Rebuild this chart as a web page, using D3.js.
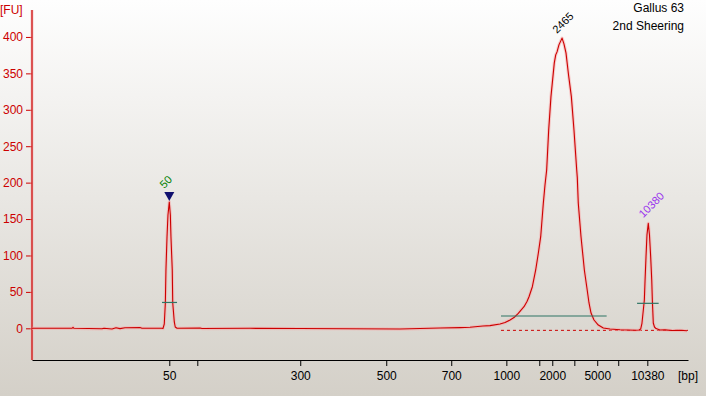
<!DOCTYPE html>
<html><head><meta charset="utf-8">
<script src="https://cdn.jsdelivr.net/npm/d3@7/dist/d3.min.js"></script>
<style>
html,body{margin:0;padding:0;background:#fff;}
svg{display:block;font-family:"Liberation Sans",Arial,sans-serif;}
</style></head>
<body>
<svg id="chart" width="706" height="396"></svg>
<script>
// ---- data ----
// migration time (s) of the trace points and fluorescence (FU)
const traceTime = [20.00,23.35,23.44,23.52,25.87,26.04,26.71,27.04,27.38,27.80,29.05,29.22,30.90,30.98,31.09,31.18,31.23,31.32,31.40,31.51,31.60,31.65,31.76,31.80,31.93,32.01,32.16,34.09,34.25,38.28,42.47,46.66,50.85,52.53,54.21,55.88,56.72,57.81,58.40,59.24,59.66,60.08,60.41,60.77,61.00,61.25,61.50,61.67,61.95,62.23,62.45,62.65,62.87,63.01,63.15,63.32,63.51,63.79,63.91,64.02,64.18,64.44,64.60,64.77,64.98,65.22,65.44,65.67,65.72,65.80,66.03,66.31,66.51,66.70,66.87,67.12,67.48,67.90,68.46,69.30,70.56,70.89,71.03,71.14,71.34,71.40,71.48,71.56,71.67,71.77,71.87,71.96,72.01,72.09,72.19,72.32,72.65,73.07,73.66,74.33,74.92];
const traceFU   = [0,0,1.4,0,-0.7,0,-1.0,0.7,-0.4,0.7,1.0,0,0,-0.3,5.9,34.8,80.1,125.8,155.6,173.5,155.6,125.8,80.1,34.8,8.7,1.8,0,0.4,-0.3,0,-0.3,-0.5,-1.0,-0.3,0.4,1.0,1.4,3.2,3.7,5.9,8.0,11.4,14.8,20.6,25.1,29.7,36.8,43.4,57.1,80.1,103.0,125.8,171.7,196.8,217.4,272.3,318.1,364.4,375.4,379.5,389.1,398.4,390.5,378.2,348.4,318.1,272.3,217.4,206.5,172.1,125.8,80.1,57.1,34.8,21.0,11.4,4.5,0.4,-1.0,-1.9,-2.7,-2.3,-1.0,6.9,38.9,66.3,98.4,128.2,144.2,128.2,98.4,66.3,38.9,7.3,1.8,-0.3,-2.3,-2.1,-3.0,-2.7,-3.4];

// ladder (bp) and its migration times
const ladderBp    = [50,100,300,500,700,1000,1500,2000,3000,5000,7000,10380];
const ladderTime  = [31.51,33.86,42.49,49.70,55.15,59.77,62.53,63.62,65.47,67.39,69.15,71.59];
const ladderLabel = ["50","","300","500","700","1000","","2000","","5000","","10380"];

const yTicks = [0,50,100,150,200,250,300,350,400];

// peaks labels
const peakLabel = ["50","2465","10380"];
const peakTime  = [31.51,64.44,71.67];
const peakFU    = [173.5,398.4,144.2];

// integration regions: [startTime, endTime, level FU]
const regionStart = [30.90,59.32,70.73];
const regionEnd   = [32.16,68.18,72.54];
const regionLevel = [35.5,16.9,34.3];

// baseline (dashed)
const baselineStart = 59.32, baselineEnd = 75.0, baselineFU = -2.8;

const titleLines = ["Gallus 63","2nd Sheering"];

// ---- drawing ----
const W = 706, H = 396;
const svg = d3.select("#chart");
const defs = svg.append("defs");
const grad = defs.append("linearGradient").attr("id","bg").attr("x1",0).attr("y1",0).attr("x2",0).attr("y2",1);
grad.append("stop").attr("offset","0%").attr("stop-color","#fefefe");
grad.append("stop").attr("offset","100%").attr("stop-color","#d4d0c8");
svg.append("rect").attr("width",W).attr("height",H).attr("fill","url(#bg)");

const x = d3.scaleLinear().domain([20,75]).range([32,688]);
const y = d3.scaleLinear().domain([-43.5,437]).range([360,10]);
const red = "#cc0000";

// y axis
const yAxis = svg.append("g").attr("transform","translate(32,0)")
  .call(d3.axisLeft(y).tickValues(yTicks).tickSize(6).tickPadding(3).tickSizeOuter(0));
yAxis.select(".domain").remove();
yAxis.selectAll(".tick line").attr("stroke",red);
yAxis.selectAll(".tick text").attr("fill",red).attr("font-size",12).attr("font-family","Liberation Sans, Arial, sans-serif");
svg.append("line").attr("x1",32).attr("x2",32).attr("y1",y.range()[1]).attr("y2",y.range()[0])
  .attr("stroke","#f4b0b0").attr("stroke-width",3).attr("opacity",0.6);
svg.append("line").attr("x1",32).attr("x2",32).attr("y1",y.range()[1]).attr("y2",y.range()[0])
  .attr("stroke",red).attr("stroke-width",1.2);
svg.append("text").attr("x",0).attr("y",14).attr("fill",red).attr("font-size",12).text("[FU]");

// x axis
const xAxis = svg.append("g").attr("transform","translate(0,360)")
  .call(d3.axisBottom(x).tickValues(ladderTime).tickSize(6).tickPadding(5).tickSizeOuter(0)
    .tickFormat((d,i)=>ladderLabel[i]));
xAxis.select(".domain").attr("stroke","#000").attr("stroke-width",1.2);
xAxis.selectAll(".tick line").attr("stroke","#000");
xAxis.selectAll(".tick text").attr("fill","#000").attr("font-size",12).attr("font-family","Liberation Sans, Arial, sans-serif");
svg.append("text").attr("x",688).attr("y",380).attr("text-anchor","middle").attr("font-size",12).attr("fill","#000").text("[bp]");

// dashed baseline
svg.append("line").attr("x1",x(baselineStart)).attr("x2",x(baselineEnd))
  .attr("y1",y(baselineFU)).attr("y2",y(baselineFU))
  .attr("stroke",red).attr("stroke-width",1).attr("stroke-dasharray","3,3");

// trace
const pts = traceTime.map((t,i)=>[t,traceFU[i]]);
const line = d3.line().x(d=>x(d[0])).y(d=>y(d[1]));
svg.append("path").attr("d",line(pts)).attr("fill","none").attr("stroke","#f5a8a8").attr("stroke-width",3.2).attr("opacity",0.55).attr("stroke-linejoin","round");
svg.append("path").attr("d",line(pts)).attr("fill","none").attr("stroke",red).attr("stroke-width",1.1).attr("stroke-linejoin","round");

// integration lines
regionStart.forEach((s,i)=>{
  svg.append("line").attr("x1",x(s)).attr("x2",x(regionEnd[i]))
    .attr("y1",y(regionLevel[i])).attr("y2",y(regionLevel[i]))
    .attr("stroke","#2f7565").attr("stroke-width",1.2);
});

// marker triangle on lower marker peak
const tx = x(peakTime[0]), ty = y(peakFU[0]);
svg.append("path").attr("d",`M${tx-5},${ty-10} L${tx+5},${ty-10} L${tx},${ty-1} Z`).attr("fill","#10106e");

// peak labels
const labelColors = ["#008000","#000000","#9933ee"];
const labelOffsetY = [-13,-4,-5];
peakLabel.forEach((lab,i)=>{
  const px = x(peakTime[i]) - 5, py = y(peakFU[i]) + labelOffsetY[i];
  svg.append("text").attr("transform",`translate(${px},${py}) rotate(-45)`)
    .attr("font-size",11).attr("fill",labelColors[i]).text(lab);
});

// title
titleLines.forEach((t,i)=>{
  svg.append("text").attr("x",684).attr("y",12+i*18).attr("text-anchor","end").attr("font-size",12).attr("fill","#000").text(t);
});
</script>
</body></html>
